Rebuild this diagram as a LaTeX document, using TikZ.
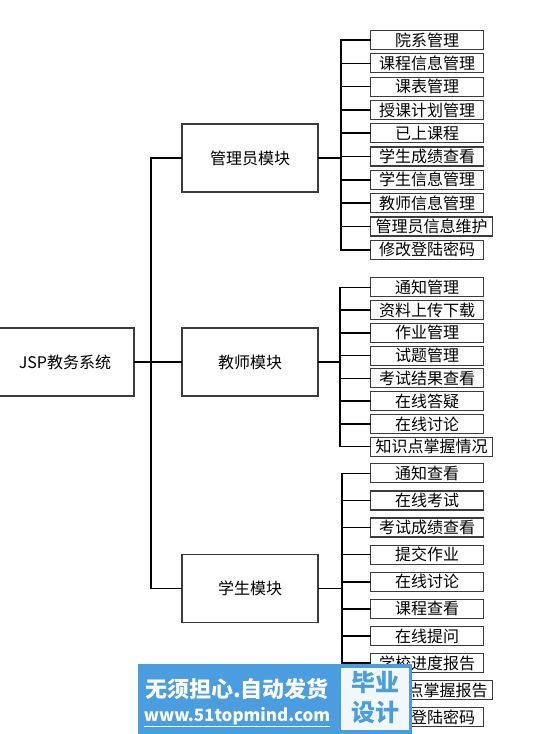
\documentclass[tikz,border=0pt]{standalone}
\usepackage{fontspec}
\setmainfont{Noto Sans CJK SC}
\definecolor{WMblue}{HTML}{4A9EDF}
\definecolor{WMwhite}{HTML}{F2F7FC}
\definecolor{boxgray}{HTML}{3C3C3C}
\usetikzlibrary{positioning}

\tikzset{
  modbox/.style={draw=boxgray, line width=1.2pt, minimum width=136pt, minimum height=68pt,
    inner sep=0pt, font=\fontsize{16}{16}\selectfont},
  leafbox/.style={draw=boxgray, line width=1.2pt, anchor=west, minimum width=113pt,
    minimum height=19pt, inner xsep=5pt, inner ysep=0pt, font=\fontsize{16}{16}\selectfont},
  link/.style={line width=1.6pt, line cap=rect},
}

\begin{document}
\begin{tikzpicture}[x=1pt, y=-1pt]
  \useasboundingbox (0,0) rectangle (551,734);
  % Root and modules
  \node[modbox, minimum width=138pt] (root) at (65,362) {JSP教务系统};
  \node[modbox] (admin) at (250,158) {管理员模块};
  \node[modbox] (teacher) at (250,362) {教师模块};
  \node[modbox] (student) at (250,588.5) {学生模块};
  % Trunk
  \coordinate (trunk) at (151,362);
  \draw[link] (root.east) -- (teacher.west);
  \draw[link] (admin.west) -| (trunk) |- (student.west);
  % Admin leaves
  \foreach \txt [count=\i] in {院系管理,课程信息管理,课表管理,授课计划管理,已上课程,
      学生成绩查看,学生信息管理,教师信息管理,管理员信息维护,修改登陆密码}
    \node[leafbox] (a\i) at (370,{40+23.3*(\i-1)}) {\txt};
  \coordinate (abar) at (341,0);
  \draw[link] (abar |- a1.west) -- (abar |- a10.west);
  \draw[link] (admin.east) -- (abar |- admin.east);
  \foreach \i in {1,...,10}
    \draw[link] (abar |- a\i.west) -- (a\i.west);
  % Teacher leaves
  \foreach \txt [count=\i] in {通知管理,资料上传下载,作业管理,试题管理,考试结果查看,
      在线答疑,在线讨论,知识点掌握情况}
    \node[leafbox] (t\i) at (370,{287.3+22.77*(\i-1)}) {\txt};
  \coordinate (tbar) at (340,0);
  \draw[link] (tbar |- t1.west) -- (tbar |- t8.west);
  \draw[link] (teacher.east) -- (tbar |- teacher.east);
  \foreach \i in {1,...,8}
    \draw[link] (tbar |- t\i.west) -- (t\i.west);
  % Student leaves
  \foreach \txt [count=\i] in {通知查看,在线考试,考试成绩查看,提交作业,在线讨论,
      课程查看,在线提问,学校进度报告,知识点掌握报告,修改登陆密码}
    \node[leafbox] (s\i) at (370,{473.3+27.11*(\i-1)}) {\txt};
  \coordinate (sbar) at (342,0);
  \draw[link] (sbar |- s1.west) -- (sbar |- s10.west);
  \draw[link] (student.east) -- (sbar |- student.east);
  \foreach \i in {1,...,10}
    \draw[link] (sbar |- s\i.west) -- (s\i.west);
  % Watermark
  \node[fill=WMblue, minimum width=274pt, minimum height=71pt, anchor=north west,
    inner sep=0pt] (wm) at (138,664) {};
  \node[fill=WMwhite, minimum width=68pt, minimum height=62pt, anchor=north west,
    inner sep=0pt] (wmbox) at (341,668) {};
  \node[white, font=\fontsize{22}{22}\selectfont\bfseries] (wmtxt) at (237,689) {无须担心.自动发货};
  \node[white, font=\fontsize{17}{17}\selectfont\bfseries] (wmurl) at (237,717) {\underline{www.51topmind.com}};
  \node[WMblue, font=\fontsize{24}{24}\selectfont\bfseries] (wmbiye) at (375,683) {毕业};
  \node[WMblue, font=\fontsize{24}{24}\selectfont\bfseries] (wmsheji) at (375,712) {设计};
\end{tikzpicture}
\end{document}
